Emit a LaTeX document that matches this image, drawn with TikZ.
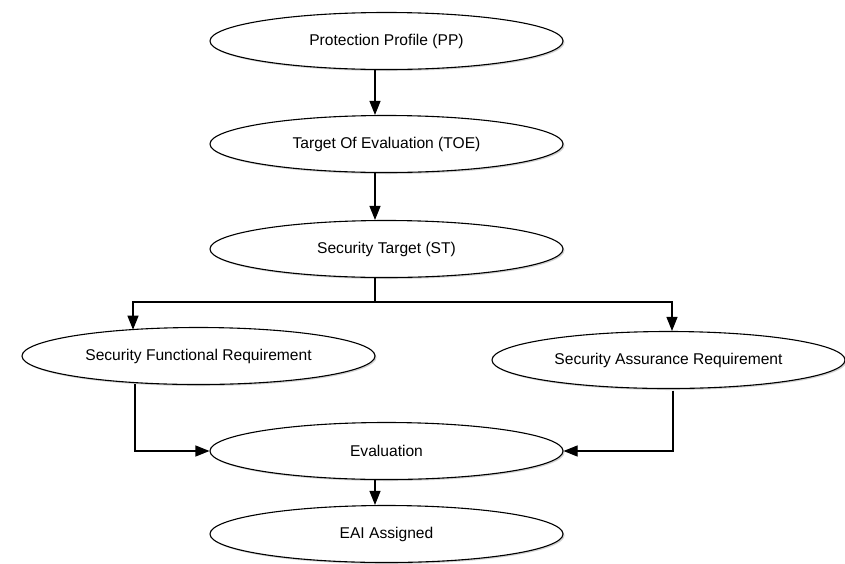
\documentclass[tikz,border=0pt]{standalone}
\usepackage{fontspec}
\setmainfont{Liberation Sans}
\usetikzlibrary{shapes.geometric,arrows.meta,shadows,calc}
\begin{document}
\begin{tikzpicture}[x=1pt,y=-1pt,
  proc/.style={ellipse, draw, line width=1.1pt, fill=white,
    minimum width=353pt, minimum height=57pt, inner sep=0pt,
    font=\fontsize{15.6}{19}\selectfont,
    drop shadow={shadow xshift=1.5pt, shadow yshift=-1.5pt, opacity=0.25, fill=black!70}},
  conn/.style={line width=1.1pt, -{Triangle[length=14pt,width=11pt]}}]
\useasboundingbox (0,0) rectangle (845,563);
\fill[white] (0,0) rectangle (845,563);

\node[proc] (pp)  at (386.5,41)  {Protection Profile (PP)};
\node[proc] (toe) at (386.5,144) {Target Of Evaluation (TOE)};
\node[proc] (st)  at (386.5,249) {Security Target (ST)};
\node[proc] (sfr) at (198.5,356) {Security Functional Requirement};
\node[proc] (sar) at (668.5,360) {Security Assurance Requirement};
\node[proc] (ev)  at (386.5,451) {Evaluation};
\node[proc] (eai) at (386.5,534) {EAI Assigned};

\coordinate (ax) at (375,0);
\coordinate (bl) at (133,0);
\coordinate (br) at (672,0);
\coordinate (split) at (375,302);
\coordinate (el) at (135,0);
\coordinate (er) at (673,0);

\draw[conn] (pp.south -| ax) -- (toe.north -| ax);
\draw[conn] (toe.south -| ax) -- (st.north -| ax);
\draw[line width=1.1pt] (st.south -| ax) -- (split);
\draw[conn] (split) -| ($(sfr.center)+(-65.5,-26.3)$);
\draw[conn] (split) -| (sar.north -| br);
\draw[conn] ($(sfr.center)+(-63.5,28)$) |- (ev.west);
\draw[conn] ($(sar.south -| er)+(0,1.5)$) |- (ev.east);
\draw[conn] (ev.south -| ax) -- (eai.north -| ax);
\end{tikzpicture}
\end{document}
